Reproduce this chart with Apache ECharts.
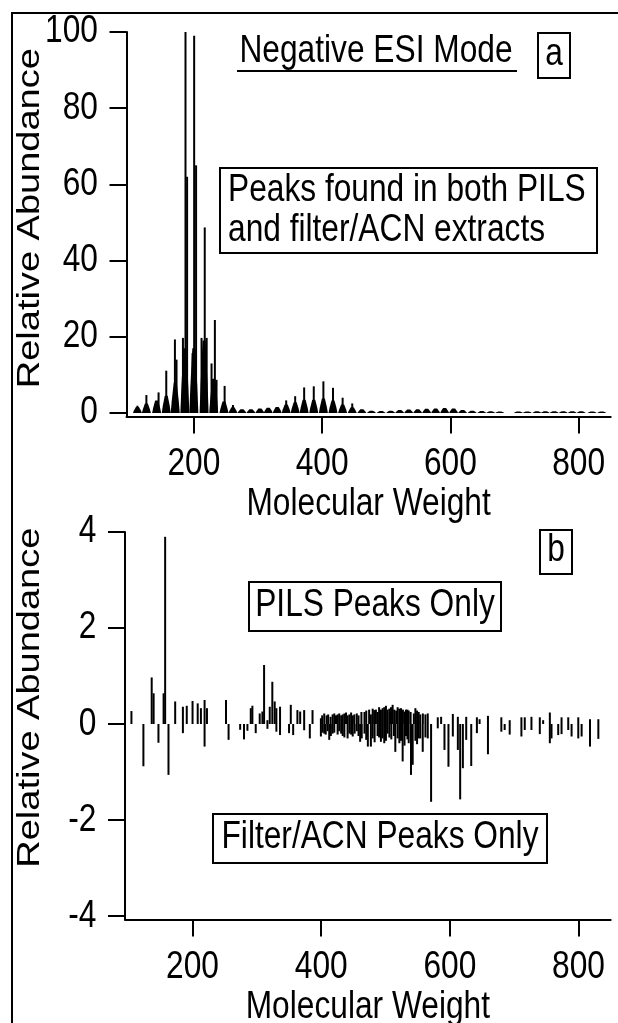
<!DOCTYPE html>
<html><head><meta charset="utf-8">
<script src="https://cdn.jsdelivr.net/npm/echarts@6/dist/echarts.min.js"></script>
<style>html,body{margin:0;padding:0;background:#fff}#c{width:618px;height:1023px}</style>
</head><body><div id="c"></div>
<script>
const FONT = "'Liberation Sans',Arial,sans-serif";
const FS = 38;     // font size
const SX = 0.834;  // horizontal squeeze of the original figure's text

// Panel a: cluster envelopes (molecular weight, relative abundance)
const envMW  = [112,126,142,157,171,186,200,216,231,247,261,275,289,303,316,330,344,358,372,387,402,417,432,447,462,477,492,507,521,535,549,563,577,591,605,619,634,649,663,677,706,720,735,748,762,776,790,804,821,836];
const envVal = [1.6,2.5,3.3,4.5,8,17,17,19,9,3,1.5,1.0,1.0,1.2,1.4,1.6,2.2,2.8,3.5,3.5,3.8,3.3,2.2,1.5,1.0,0.6,0.5,0.6,0.8,0.9,1.0,1.1,1.2,1.3,1.2,0.8,0.6,0.5,0.45,0.4,0.4,0.4,0.45,0.45,0.45,0.45,0.45,0.45,0.4,0.4];
// Panel a: individual peak sticks
const stickMW  = [112,126,145,157,170.5,173,183,187,189.5,198,200.5,203.5,212,217,220,227.6,232.8,235.4,248,261,344,358,372,387,402,417,432,447];
const stickVal = [1.9,4.7,5.4,11.1,19.3,14.0,19.7,100,62,15.7,99,65,19.7,48.7,19.7,13,24.4,8.7,7.1,2.1,3.3,4.4,6.7,7.0,8.3,6.6,4.0,2.5];

// Panel b: PILS-only peaks (positive)
const pilsMW  = [105,136.5,139.5,155,157.4,173,185,191,200,208,213,218.7,222.4,252,290.5,293,304.4,308.6,311.2,316.4,320,324,327.7,330.3,336,352.7,363,367.3,373.5,386.5,399.5,401.5,404.7,408.4,410.8,414.5,417.7,420.3,423,425.5,428,431,433.4,436,438.6,441,443.8,446.5,449,451.5,455.3,458,462.5,467.3,470,474.5,477.2,480,482.4,485,487.6,490,492.8,495.5,498,500.6,503.2,506,508.5,511,513.5,516.5,518.8,521.5,524,527,529.5,531.8,534,536,539,544,546.4,549,551.6,554,558,562,565.6,581.2,586.4,604.6,612.4,625.4,642,646.2,659.2,680,693,711.2,716.4,726.8,739.8,745,755.4,773.6,784,799.6,817.8,830.8];
const pilsVal = [0.27,0.97,0.64,0.64,3.9,0.47,0.36,0.38,0.48,0.43,0.33,0.5,0.33,0.5,0.33,0.38,0.22,0.26,1.23,0.08,0.36,0.88,0.47,0.33,0.36,0.40,0.29,0.26,0.29,0.29,0.12,0.18,0.22,0.18,0.2,0.15,0.2,0.22,0.18,0.2,0.22,0.18,0.2,0.22,0.24,0.18,0.2,0.24,0.18,0.2,0.22,0.18,0.25,0.25,0.28,0.3,0.2,0.32,0.29,0.3,0.25,0.35,0.3,0.33,0.35,0.38,0.3,0.32,0.35,0.40,0.3,0.28,0.35,0.32,0.33,0.3,0.26,0.3,0.3,0.28,0.25,0.22,0.33,0.28,0.25,0.2,0.22,0.2,0.22,0.14,0.15,0.21,0.15,0.15,0.14,0.1,0.17,0.14,0.08,0.14,0.14,0.15,0.14,0.08,0.24,0.14,0.14,0.14,0.1,0.1];
// Panel b: Filter/ACN-only peaks (negative)
const acnMW  = [123.6,147,162.6,185,218.7,256,274,280,285.3,298.2,316.4,330.3,336,350,356.4,373.5,382.3,399.5,402,404.7,407,410,412.5,415,417.7,420.3,425.5,428,431,433.4,436,441,443.8,446.5,449,452,455.3,458,460.5,463,467.3,470,472.5,477.2,480,483,487.6,490,492.8,495.5,498,500.6,503.2,506,509,513,515.2,518.8,521.5,524,526.6,529.5,531.8,534,536,539.6,542.2,546.4,549,551.6,554,557.8,562,565.6,570.8,581.2,591.6,597.8,604.6,612.4,616,620.2,625.4,633.2,642,659.2,680,685.2,693,711.2,716.4,726.8,739.8,755.4,758,768.4,773.6,784,789.2,799.6,804.8,817.8,830.8];
const acnVal = [-0.88,-0.39,-1.06,-0.19,-0.47,-0.33,-0.12,-0.32,-0.14,-0.19,-0.1,-0.16,-0.23,-0.19,-0.23,-0.13,-0.3,-0.26,-0.18,-0.2,-0.22,-0.15,-0.33,-0.25,-0.2,-0.18,-0.22,-0.15,-0.2,-0.25,-0.28,-0.3,-0.2,-0.22,-0.26,-0.2,-0.15,-0.25,-0.37,-0.3,-0.2,-0.33,-0.47,-0.47,-0.3,-0.38,-0.25,-0.28,-0.37,-0.3,-0.40,-0.35,-0.2,-0.28,-0.32,-0.25,-0.58,-0.3,-0.4,-0.35,-0.78,-0.45,-0.25,-0.32,-0.4,-1.06,-0.85,-0.35,-0.42,-0.3,-0.3,-0.58,-0.28,-0.3,-1.62,-0.09,-0.54,-0.89,-0.26,-0.54,-1.57,-0.92,-0.33,-0.875,-0.19,-0.63,-0.16,-0.125,-0.22,-0.26,-0.125,-0.125,-0.21,-0.40,-0.3,-0.23,-0.21,-0.125,-0.26,-0.3,-0.26,-0.47,-0.31];

const xTicks = [200,400,600,800];
const aTicks = [0,20,40,60,80,100];
const bTicks = [-4,-2,0,2,4];
const xRange = [95, 850];
const aRange = [-0.9, 100];
const bRange = [-4.07, 4];

const zip = (a, b) => a.map((m, i) => [m, b[i]]);

function stickItem(params, api) {
  const x = api.value(0), v = api.value(1);
  const p0 = api.coord([x, 0]), p1 = api.coord([x, v]);
  return { type: 'rect',
    shape: { x: p0[0] - 1, y: Math.min(p0[1], p1[1]), width: 2, height: Math.abs(p1[1] - p0[1]) },
    style: { fill: '#000' } };
}
function envItem(params, api) {
  const x = api.value(0), v = api.value(1);
  const p0 = api.coord([x, 0]), p1 = api.coord([x, v]);
  const h = p0[1] - p1[1], cx = p0[0], y0 = p0[1];
  return { type: 'polygon',
    shape: { points: [[cx - 4.5, y0], [cx - 3.5, y0 - h * 0.4], [cx - 1.5, y0 - h], [cx + 1.5, y0 - h], [cx + 3.5, y0 - h * 0.4], [cx + 4.5, y0]] },
    style: { fill: '#000' } };
}

const axisLineStyle = { color: '#000', width: 2 };
function xAx(grid) {
  return { type: 'value', gridIndex: grid, min: xRange[0], max: xRange[1],
    axisLine: { onZero: false, lineStyle: axisLineStyle },
    axisTick: { show: true, length: 17, customValues: xTicks, lineStyle: axisLineStyle },
    axisLabel: { show: false }, splitLine: { show: false } };
}
function yAx(grid, range, ticks) {
  return { type: 'value', gridIndex: grid, min: range[0], max: range[1],
    axisLine: { show: true, onZero: false, lineStyle: axisLineStyle },
    axisTick: { show: true, length: 17, customValues: ticks, lineStyle: axisLineStyle },
    axisLabel: { show: false }, splitLine: { show: false } };
}

const chart = echarts.init(document.getElementById('c'), null, { renderer: 'canvas' });
const txt = (x, y, t, align, extra) => Object.assign({ type: 'text', x: x, y: y, scaleX: SX, silent: true,
  style: { text: String(t), fill: '#000', font: FS + 'px ' + FONT, align: align || 'center', verticalAlign: 'middle' } }, extra || {});
const box = (x, y, w, h) => ({ type: 'rect', silent: true, shape: { x: x, y: y, width: w, height: h },
  style: { fill: '#fff', stroke: '#000', lineWidth: 2 } });

chart.setOption({
  animation: false,
  backgroundColor: '#fff',
  grid: [
    { left: 126.5, top: 32, width: 484.2, height: 384.4, containLabel: false, outerBoundsMode: 'none' },
    { left: 125, top: 532, width: 485.7, height: 387.4, containLabel: false, outerBoundsMode: 'none' }
  ],
  xAxis: [xAx(0), xAx(1)],
  yAxis: [yAx(0, aRange, aTicks), yAx(1, bRange, bTicks)],
  series: [
    { type: 'custom', xAxisIndex: 0, yAxisIndex: 0, renderItem: envItem, data: zip(envMW, envVal), silent: true },
    { type: 'custom', xAxisIndex: 0, yAxisIndex: 0, renderItem: stickItem, data: zip(stickMW, stickVal), silent: true },
    { type: 'custom', xAxisIndex: 1, yAxisIndex: 1, renderItem: stickItem, data: zip(pilsMW, pilsVal), silent: true },
    { type: 'custom', xAxisIndex: 1, yAxisIndex: 1, renderItem: stickItem, data: zip(acnMW, acnVal), silent: true }
  ]
});

// Axis tick labels and titles, placed through the axes' own scales
const g = [
  { type: 'rect', silent: true, shape: { x: 12, y: 13, width: 700, height: 1100 }, style: { fill: 'none', stroke: '#000', lineWidth: 2 } },
  txt(376, 52, 'Negative ESI Mode'),
  { type: 'line', silent: true, shape: { x1: 237, y1: 71, x2: 517, y2: 71 }, style: { stroke: '#000', lineWidth: 2 } },
  box(538, 33, 32, 45), txt(554, 55, 'a'),
  box(220, 168, 377, 85),
  txt(228, 191, 'Peaks found in both PILS', 'left'),
  txt(228, 231, 'and filter/ACN extracts', 'left'),
  box(540, 530, 32, 44), txt(556, 551, 'b'),
  box(249, 582, 252, 49), txt(375, 606, 'PILS Peaks Only'),
  box(213, 814, 334, 49), txt(380, 838, 'Filter/ACN Peaks Only')
];
const yRanges = [aRange, bRange], yTickSets = [aTicks, bTicks], titleShift = [-6, -28];
[0, 1].forEach(i => {
  const axisY = chart.convertToPixel({ yAxisIndex: i }, yRanges[i][0]);
  const topY = chart.convertToPixel({ yAxisIndex: i }, yRanges[i][1]);
  const axisX = chart.convertToPixel({ xAxisIndex: i }, xRange[0]);
  const rightX = chart.convertToPixel({ xAxisIndex: i }, xRange[1]);
  xTicks.forEach(v => g.push(txt(chart.convertToPixel({ xAxisIndex: i }, v), axisY + 48, v)));
  yTickSets[i].forEach(v => g.push(txt(axisX - 28.5, chart.convertToPixel({ yAxisIndex: i }, v), v, 'right')));
  g.push(txt((axisX + rightX) / 2, axisY + 88, 'Molecular Weight'));
  g.push(txt(30, (axisY + topY) / 2 + titleShift[i], 'Relative Abundance', 'center', { rotation: Math.PI / 2, scaleX: 1, scaleY: SX }));
});
chart.setOption({ graphic: g });
</script></body></html>
